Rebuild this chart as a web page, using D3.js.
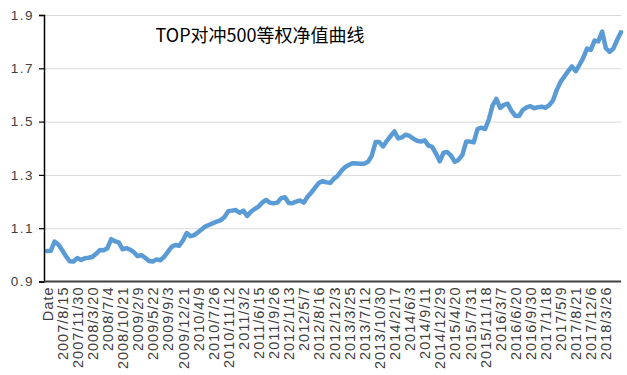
<!DOCTYPE html>
<html>
<head>
<meta charset="utf-8">
<script src="https://cdn.jsdelivr.net/npm/d3@7"></script>
<style>
  body { margin: 0; background: #fff; }
</style>
</head>
<body>
<script>
// chart data
var title = "TOP对冲500等权净值曲线";
var tickLabels = ["Date","2007/8/15","2007/11/30","2008/3/20","2008/7/4","2008/10/21","2009/2/9",
  "2009/5/22","2009/9/3","2009/12/21","2010/4/9","2010/7/26","2010/11/12","2011/3/2","2011/6/15",
  "2011/9/26","2012/1/13","2012/5/7","2012/8/16","2012/12/3","2013/3/25","2013/7/12","2013/10/30",
  "2014/2/17","2014/6/3","2014/9/11","2014/12/29","2015/4/20","2015/7/31","2015/11/18","2016/3/7",
  "2016/6/20","2016/9/30","2017/1/18","2017/5/9","2017/8/21","2017/12/6","2018/3/26"];
var yTicks = [0.9, 1.1, 1.3, 1.5, 1.7, 1.9];
// net value, one reading every 18 trading days (4 per date label)
var nav = [
  1.014,1.015,1.050,1.039,1.018,0.995,0.976,0.975,0.988,0.981,
  0.987,0.989,0.992,1.004,1.018,1.017,1.025,1.059,1.051,1.047,
  1.021,1.025,1.020,1.010,0.995,0.999,0.989,0.977,0.975,0.983,
  0.980,0.992,1.011,1.030,1.037,1.034,1.054,1.082,1.070,1.074,
  1.085,1.096,1.107,1.113,1.119,1.125,1.130,1.142,1.164,1.166,
  1.168,1.158,1.166,1.146,1.162,1.172,1.181,1.196,1.206,1.196,
  1.193,1.196,1.213,1.216,1.195,1.194,1.200,1.204,1.196,1.218,
  1.234,1.252,1.270,1.277,1.272,1.270,1.286,1.297,1.316,1.330,
  1.338,1.344,1.343,1.342,1.342,1.349,1.372,1.423,1.423,1.407,
  1.428,1.446,1.463,1.437,1.441,1.451,1.446,1.436,1.428,1.425,
  1.430,1.410,1.405,1.380,1.351,1.383,1.386,1.372,1.349,1.357,
  1.375,1.425,1.425,1.422,1.472,1.477,1.472,1.508,1.561,1.585,
  1.551,1.563,1.567,1.540,1.522,1.521,1.544,1.553,1.558,1.550,
  1.554,1.556,1.552,1.562,1.580,1.619,1.649,1.669,1.689,1.707,
  1.689,1.713,1.739,1.774,1.769,1.804,1.801,1.838,1.775,1.762,
  1.775,1.807,1.835];
var perLabel = 4;

// size and layout
var width = 627, height = 375;
var plotLeft = 44, plotRight = 621, plotTop = 15, plotBottom = 281.5;

var svg = d3.select("body")
  .append("svg")
  .attr("width", width)
  .attr("height", height);

var xScale = d3.scaleLinear()
  .domain([0, nav.length - 1])
  .range([47, plotRight]);

var yScale = d3.scaleLinear()
  .domain([0.9, 1.9])
  .range([plotBottom, plotTop]);

// gridlines
svg.append("g")
  .attr("transform", "translate(" + plotLeft + ",0)")
  .call(d3.axisLeft(yScale).tickValues(yTicks.slice(1)).tickSize(-(plotRight - plotLeft)).tickFormat(""))
  .call(function(g){
    g.select(".domain").remove();
    g.selectAll("line").attr("stroke", "#d9d9d9").attr("stroke-width", 1);
  });

// title
svg.append("text")
  .attr("x", 260)
  .attr("y", 42)
  .attr("text-anchor", "middle")
  .attr("font-family", "'Noto Sans CJK SC', sans-serif")
  .attr("font-size", 18)
  .attr("fill", "#000")
  .text(title);

// the line
var line = d3.line()
  .x(function(d, i){ return xScale(i); })
  .y(function(d){ return yScale(d); });

svg.append("path")
  .datum(nav)
  .attr("d", line)
  .attr("fill", "none")
  .attr("stroke", "#5b9bd5")
  .attr("stroke-width", 4.5)
  .attr("stroke-linejoin", "round")
  .attr("stroke-linecap", "round");

// y axis
svg.append("g")
  .attr("transform", "translate(" + plotLeft + ",0)")
  .call(d3.axisLeft(yScale).tickValues(yTicks).tickSize(5).tickPadding(5).tickFormat(d3.format(".1f")))
  .call(function(g){
    g.select(".domain").attr("stroke", "#000").attr("stroke-width", 1.5);
    g.selectAll(".tick line").attr("stroke", "#000").attr("stroke-width", 1.2);
    g.selectAll("text")
      .attr("font-family", "'Liberation Sans', Arial, sans-serif")
      .attr("font-size", 13.5)
      .attr("letter-spacing", 1.5)
      .attr("fill", "#404040");
  });

// x axis with date labels
var labelIdx = tickLabels.map(function(d, i){ return i * perLabel; });

svg.append("g")
  .attr("transform", "translate(0," + plotBottom + ")")
  .call(d3.axisBottom(xScale).tickValues(labelIdx).tickSize(0)
    .tickFormat(function(d, i){ return tickLabels[i]; }))
  .call(function(g){
    g.select(".domain")
      .attr("d", "M" + plotLeft + ",0H" + plotRight)
      .attr("stroke", "#404040")
      .attr("stroke-width", 2);
    g.selectAll("text")
      .attr("font-family", "'Liberation Sans', Arial, sans-serif")
      .attr("font-size", 14.5)
      .attr("letter-spacing", 1)
      .attr("fill", "#404040")
      .attr("text-anchor", "end")
      .attr("transform", "rotate(-90)")
      .attr("x", -5)
      .attr("y", 0)
      .attr("dy", "0.35em");
  });
</script>
</body>
</html>
